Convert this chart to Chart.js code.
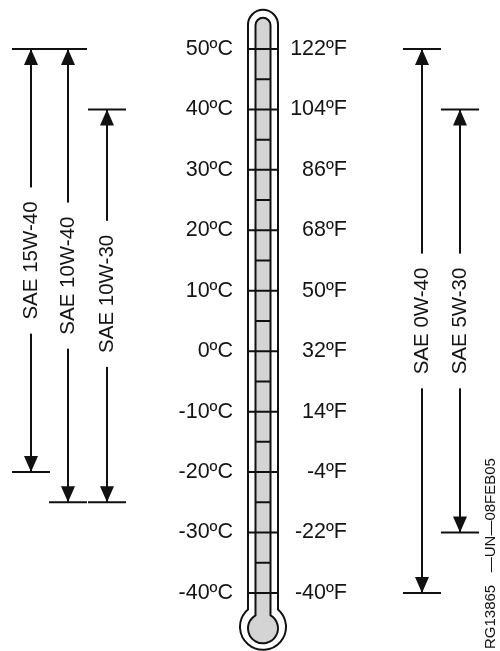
<!DOCTYPE html>
<html>
<head>
<meta charset="utf-8">
<title>Engine oil viscosity by temperature</title>
<script src="https://cdn.jsdelivr.net/npm/chart.js@4/dist/chart.umd.min.js"></script>
<style>
  html, body { margin: 0; padding: 0; background: #fff; }
  #wrap { position: relative; width: 500px; height: 651px; }
</style>
</head>
<body>
<div id="wrap"><canvas id="grafico"></canvas></div>
<script>
// ─── Dados ───────────────────────────────────────────────────────────────────

const oils    = ['SAE 15W-40', 'SAE 10W-40', 'SAE 10W-30', 'SAE 0W-40', 'SAE 5W-30'];
const oilHigh = [50, 50, 40, 50, 40];      // °C
const oilLow  = [-20, -25, -25, -40, -30]; // °C

const celsiusTicks     = [50, 40, 30, 20, 10, 0, -10, -20, -30, -40];
const celsiusLabels    = ['50ºC', '40ºC', '30ºC', '20ºC', '10ºC', '0ºC', '-10ºC', '-20ºC', '-30ºC', '-40ºC'];
const fahrenheitLabels = ['122ºF', '104ºF', '86ºF', '68ºF', '50ºF', '32ºF', '14ºF', '-4ºF', '-22ºF', '-40ºF'];
const minorTicks       = [45, 35, 25, 15, 5, -5, -15, -25, -35];

const figureCode = 'RG13865   \u2014UN\u201408FEB05';

// ─── Layout ──────────────────────────────────────────────────────────────────

const oilX       = [31, 68, 107, 422, 460]; // x-scale units (= px)
const labelShift = [0, 0, -12, 0, 0];       // px
const BAR_HALF   = 19;
const TUBE_X     = 263;
const TUBE_TOP_C = 54;     // centre of top cap, °C
const BULB_C     = -45.6;  // centre of bulb, °C
const Y_MIN = -49.6, Y_MAX = 58.1;
const FONT = '"Liberation Sans", Arial, Helvetica, sans-serif';
const INK = '#111';
const TEXT = '#141414';

// ─── Plugin ──────────────────────────────────────────────────────────────────

function tubePath(ctx, cx, yTop, yBulb, r, rb) {
  const dy = Math.sqrt(rb * rb - r * r);
  const aR = Math.atan2(-dy, r);
  ctx.beginPath();
  ctx.arc(cx, yTop, r, Math.PI, 0);
  ctx.lineTo(cx + r, yBulb - dy);
  ctx.arc(cx, yBulb, rb, aR, Math.PI - aR);
  ctx.closePath();
}

const thermoPlugin = {
  id: 'thermo',
  afterDatasetsDraw(chart) {
    const { ctx, scales: { x, y } } = chart;
    const cx = x.getPixelForValue(TUBE_X);
    const yTop = y.getPixelForValue(TUBE_TOP_C);
    const yBulb = y.getPixelForValue(BULB_C);
    ctx.save();
    ctx.lineWidth = 2;
    ctx.strokeStyle = INK;

    // termômetro
    tubePath(ctx, cx, yTop, yBulb, 15, 23);
    ctx.fillStyle = '#fff';
    ctx.fill();
    ctx.stroke();
    tubePath(ctx, cx, yTop + 0.5, yBulb + 1.5, 7.5, 15);
    ctx.fillStyle = '#d4d4d4';
    ctx.fill();
    ctx.stroke();

    ctx.beginPath();
    celsiusTicks.forEach(t => {
      const py = y.getPixelForValue(t);
      ctx.moveTo(cx - 15, py); ctx.lineTo(cx + 15, py);
    });
    minorTicks.forEach(t => {
      const py = y.getPixelForValue(t);
      ctx.moveTo(cx - 7.5, py); ctx.lineTo(cx + 7.5, py);
    });
    ctx.stroke();

    // escalas
    ctx.fillStyle = TEXT;
    ctx.font = '21.5px ' + FONT;
    ctx.textBaseline = 'middle';
    celsiusTicks.forEach((t, i) => {
      const py = y.getPixelForValue(t);
      ctx.textAlign = 'right';
      ctx.fillText(celsiusLabels[i], cx - 30, py);
      ctx.fillText(fahrenheitLabels[i], cx + 84, py);
    });

    // faixas de óleo
    ctx.font = '20.5px ' + FONT;
    oils.forEach((name, i) => {
      const px = x.getPixelForValue(oilX[i]);
      const yh = y.getPixelForValue(oilHigh[i]);
      const yl = y.getPixelForValue(oilLow[i]);
      ctx.beginPath();
      ctx.moveTo(px - BAR_HALF, yh); ctx.lineTo(px + BAR_HALF, yh);
      ctx.moveTo(px - BAR_HALF, yl); ctx.lineTo(px + BAR_HALF, yl);
      ctx.stroke();
      ctx.fillStyle = INK;
      ctx.beginPath();
      ctx.moveTo(px, yh); ctx.lineTo(px - 7, yh + 16); ctx.lineTo(px + 7, yh + 16);
      ctx.closePath();
      ctx.moveTo(px, yl); ctx.lineTo(px - 7, yl - 16); ctx.lineTo(px + 7, yl - 16);
      ctx.closePath();
      ctx.fill();

      const mid = (yh + yl) / 2 + labelShift[i];
      const w = ctx.measureText(name).width;
      ctx.fillStyle = '#fff';
      ctx.fillRect(px - 4, mid - w / 2 - 14, 8, w + 28);
      ctx.save();
      ctx.translate(px - 1, mid);
      ctx.rotate(-Math.PI / 2);
      ctx.textAlign = 'center';
      ctx.fillStyle = TEXT;
      ctx.fillText(name, 0, 1);
      ctx.restore();
    });

    // código da figura
    ctx.save();
    ctx.translate(x.getPixelForValue(490), chart.chartArea.bottom - 2);
    ctx.rotate(-Math.PI / 2);
    ctx.font = '15px ' + FONT;
    ctx.textAlign = 'left';
    ctx.fillStyle = TEXT;
    ctx.fillText(figureCode, 0, 1);
    ctx.restore();
    ctx.restore();
  },
};

// ─── Gráfico ─────────────────────────────────────────────────────────────────

const datasets = oils.map((name, i) => ({
  label: name,
  data: [{ x: oilX[i], y: oilHigh[i] }, { x: oilX[i], y: oilLow[i] }],
  showLine: true,
  borderColor: INK,
  borderWidth: 2,
  pointRadius: 0,
}));

new Chart(document.getElementById('grafico'), {
  type: 'scatter',
  data: { datasets },
  plugins: [thermoPlugin],
  options: {
    responsive: true,
    maintainAspectRatio: false,
    animation: false,
    layout: { padding: 0 },
    plugins: { legend: { display: false }, tooltip: { enabled: false } },
    scales: {
      x: { type: 'linear', min: 0, max: 500, display: false },
      y: { type: 'linear', min: Y_MIN, max: Y_MAX, display: false },
    },
  },
});
</script>
</body>
</html>
